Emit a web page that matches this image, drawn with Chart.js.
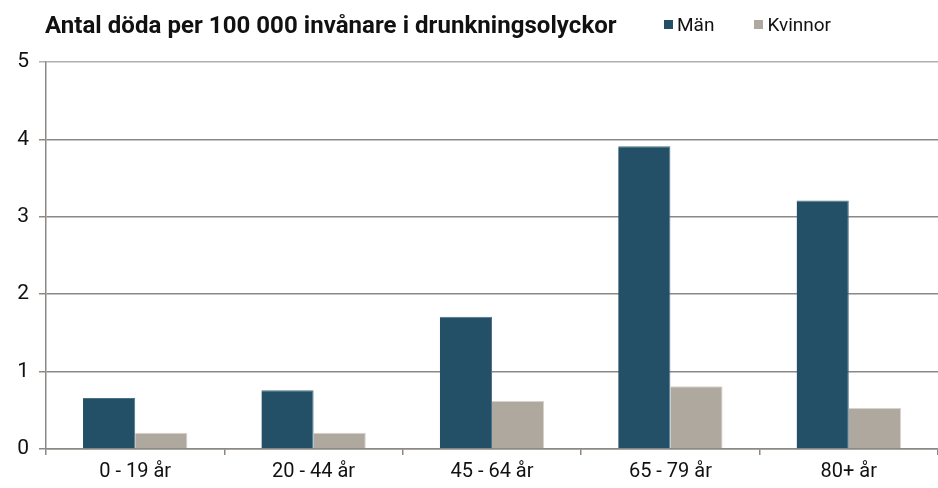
<!DOCTYPE html>
<html lang="sv">
<head>
<meta charset="utf-8">
<title>Drunkningsolyckor</title>
<script src="https://cdn.jsdelivr.net/npm/chart.js@4"></script>
<style>
    html, body { margin: 0; padding: 0; background: #fff; overflow: hidden; }
    #wrap { position: relative; width: 938px; height: 488px; }
    #titel {
        position: absolute; left: 45px; top: 11px;
        font: bold 24px Roboto, sans-serif; color: #111;
        white-space: nowrap; letter-spacing: 0.05px;
    }
    #legend {
        position: absolute; left: 664px; top: 13px;
        display: flex; font: 19px Roboto, sans-serif; color: #111;
    }
    .legend-item { display: flex; align-items: center; margin-right: 40px; }
    .legend-dot { width: 9px; height: 9px; margin-right: 4px; }
</style>
</head>
<body>
<div id="wrap">
    <canvas id="grafico" width="938" height="488"></canvas>
    <div id="titel">Antal döda per 100 000 invånare i drunkningsolyckor</div>
    <div id="legend"></div>
</div>
<script>
const kategorier = ['0 - 19 år', '20 - 44 år', '45 - 64 år', '65 - 79 år', '80+ år'];
const man = [0.66, 0.76, 1.71, 3.91, 3.21];
const kvinnor = [0.21, 0.21, 0.62, 0.81, 0.53];
const yTicks = [0, 1, 2, 3, 4, 5];

const FARG_MAN = '#234f67';
const FARG_KVINNOR = '#afa89f';

const dataset = [
    { label: 'Män', data: man, backgroundColor: FARG_MAN, borderColor: '#4d7189', borderWidth: { right: 1, top: 1 } },
    { label: 'Kvinnor', data: kvinnor, backgroundColor: FARG_KVINNOR, borderColor: '#d6d2cc', borderWidth: { right: 1, top: 1 } }
];

// Legend i HTML, byggd från dataseten
const legendEl = document.getElementById('legend');
dataset.forEach(ds => {
    const item = document.createElement('div');
    item.className = 'legend-item';
    item.innerHTML = `<span class="legend-dot" style="background:${ds.backgroundColor}"></span>${ds.label}`;
    legendEl.appendChild(item);
});

const ctx = document.getElementById('grafico').getContext('2d');
new Chart(ctx, {
    type: 'bar',
    data: { labels: kategorier, datasets: dataset },
    options: {
        responsive: false,
        animation: false,
        layout: { padding: { top: 62, right: 0, left: 0, bottom: 0 } },
        datasets: { bar: { categoryPercentage: 0.585, barPercentage: 1.0 } },
        plugins: { legend: { display: false }, title: { display: false }, tooltip: { enabled: false } },
        scales: {
            x: {
                offset: true,
                grid: { display: true, drawOnChartArea: false, offset: true, tickLength: 6, color: '#8c8884', lineWidth: 1.5 },
                border: { display: true, color: '#8c8884', width: 1.5 },
                ticks: { color: '#111', font: { family: 'Roboto', size: 20 }, padding: 5 },
                afterFit: (scale) => { scale.height = 39; }
            },
            y: {
                min: 0, max: 5,
                afterBuildTicks: (scale) => { scale.ticks = yTicks.map(v => ({ value: v })); },
                grid: {
                    color: (c) => c.tick && c.tick.value === 5 ? '#b3afab' : '#8c8884',
                    lineWidth: 1.5,
                    tickLength: 7
                },
                border: { display: true, color: '#8c8884', width: 1.5 },
                ticks: { color: '#111', font: { family: 'Roboto', size: 21 }, padding: 10 },
                afterFit: (scale) => { scale.width = 46; }
            }
        }
    }
});
</script>
</body>
</html>
